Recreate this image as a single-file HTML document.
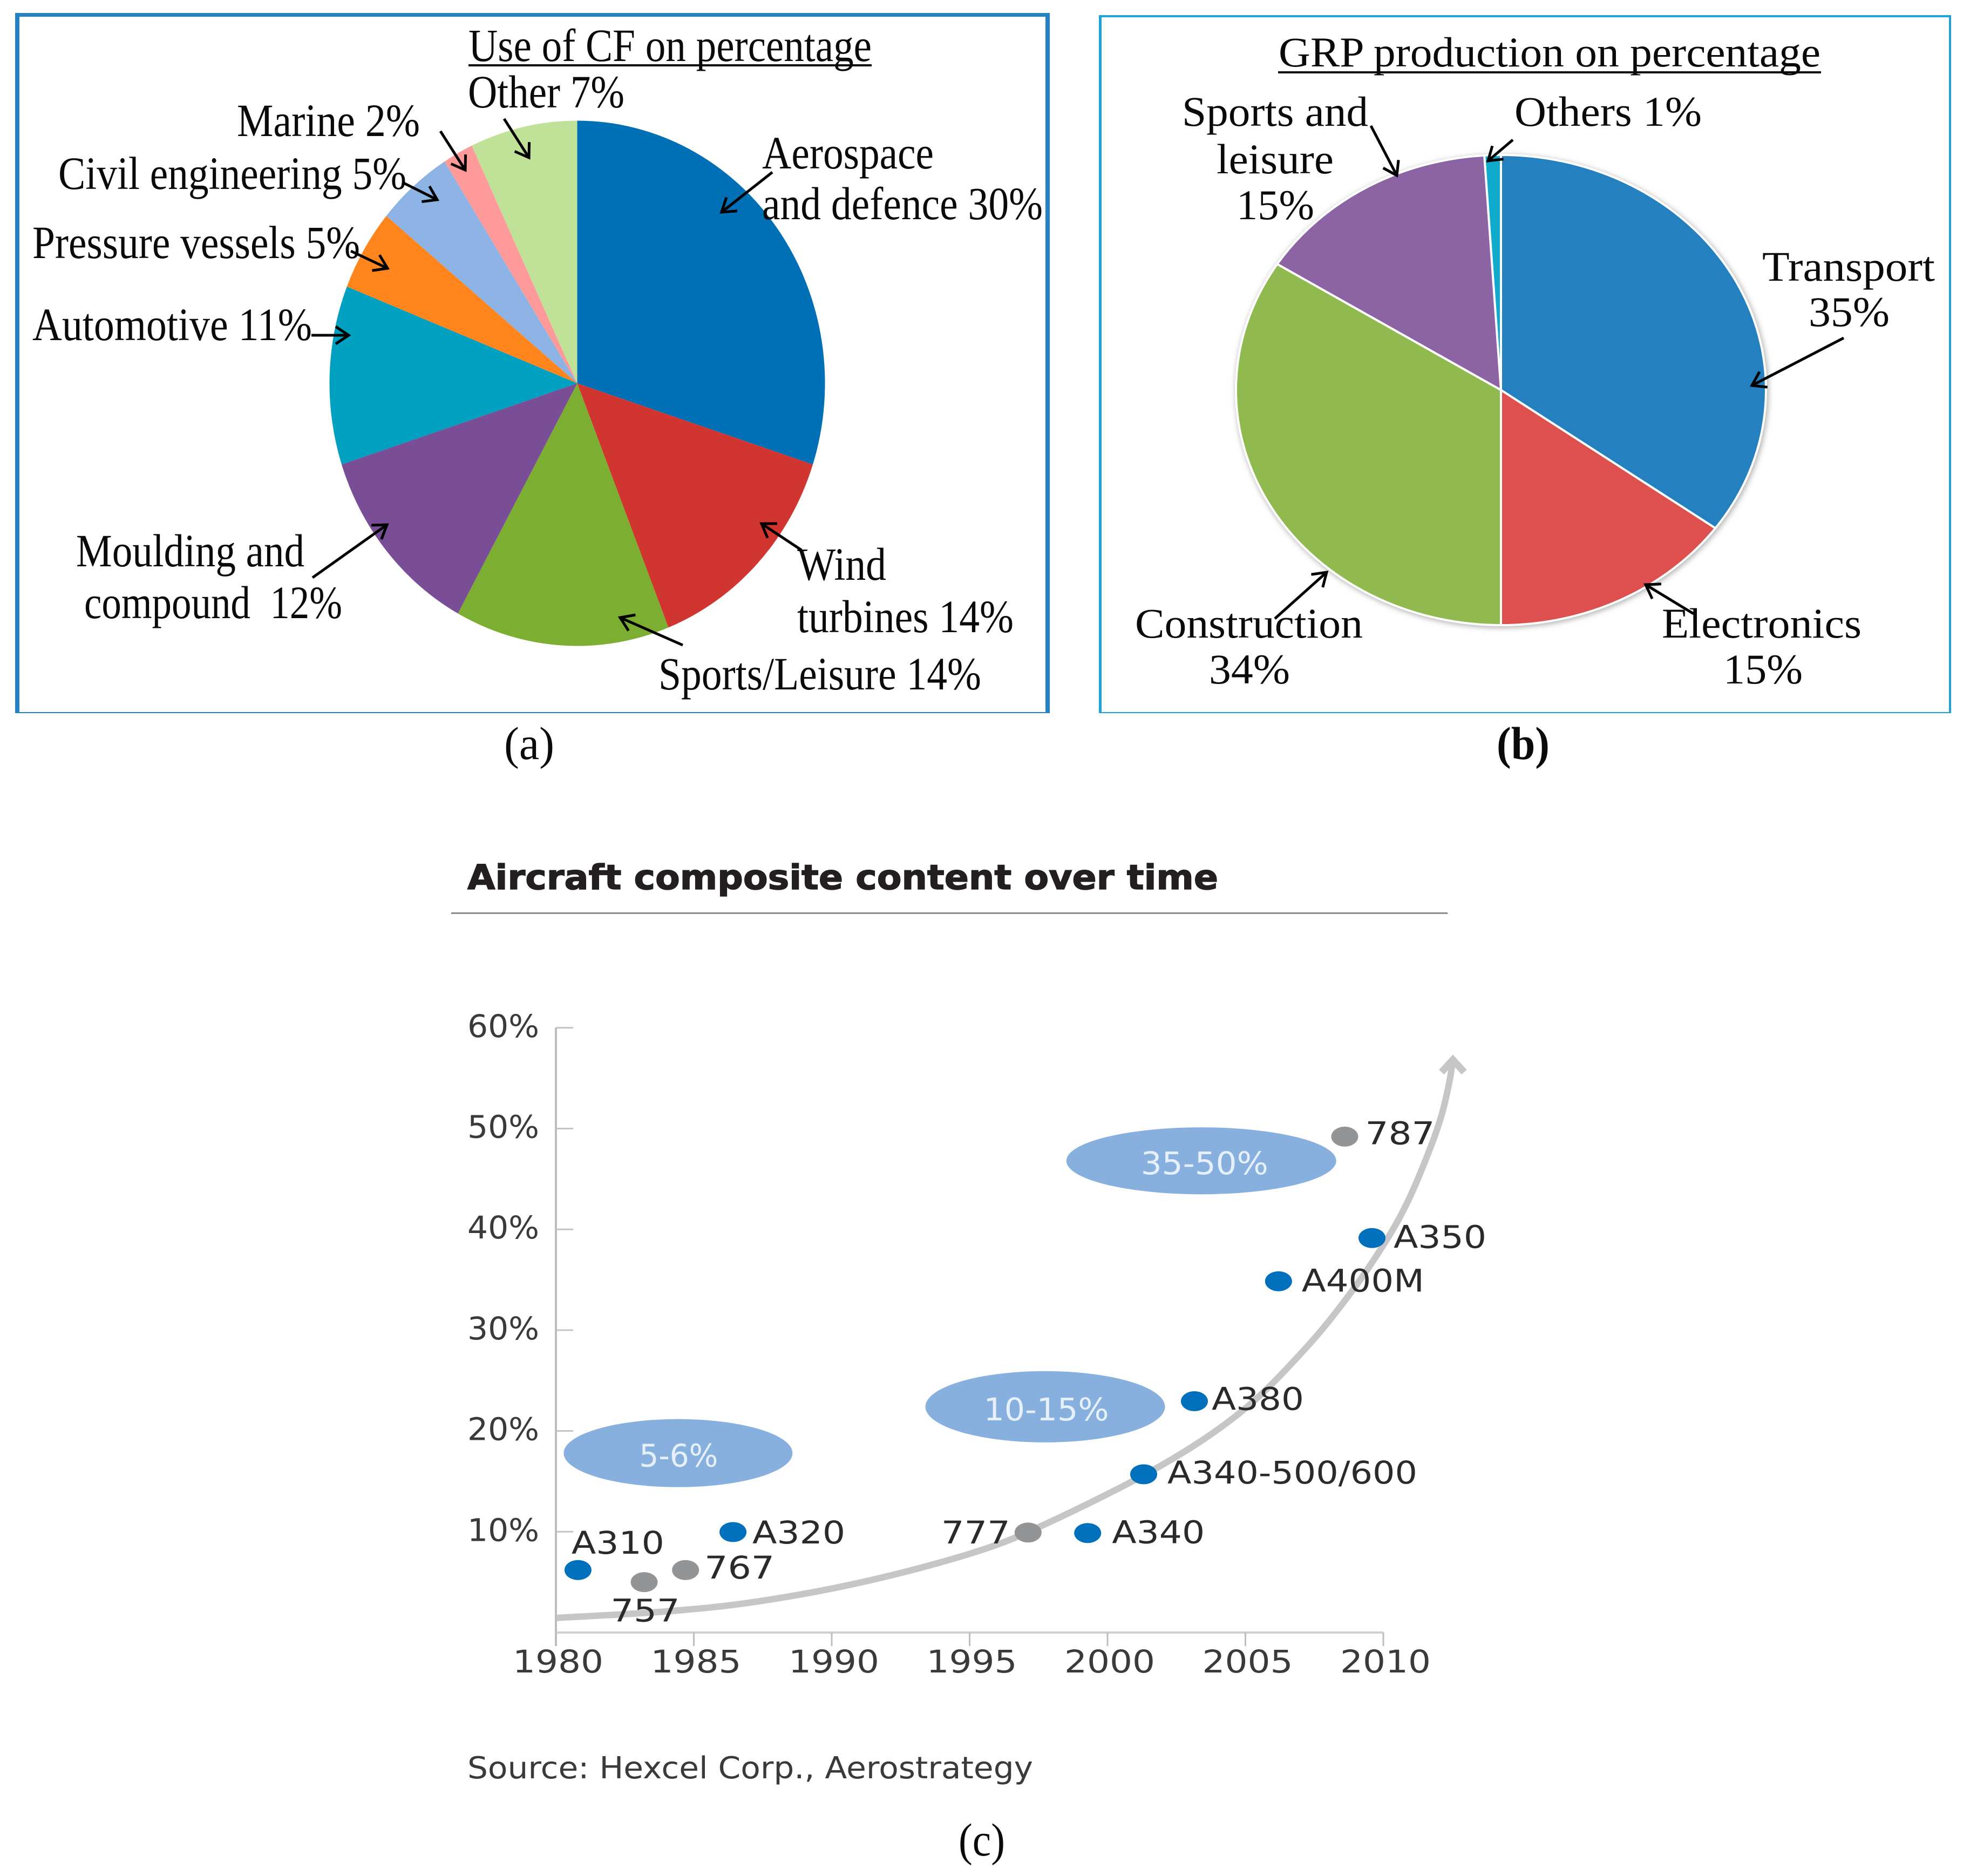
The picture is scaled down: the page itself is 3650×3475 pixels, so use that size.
<!DOCTYPE html>
<html lang="en">
<head>
<meta charset="utf-8">
<title>Composite use charts</title>
<style>
html,body{margin:0;padding:0;background:#fff;}
svg{display:block;}
.s{font-family:"Liberation Serif",serif;fill:#0a0a0a;}
.d{font-family:"DejaVu Sans",sans-serif;}
</style>
</head>
<body>
<svg id="figure" xmlns="http://www.w3.org/2000/svg" width="3650" height="3475" viewBox="0 0 3650 3475">
<defs>
<marker id="open-arrow" markerUnits="userSpaceOnUse" markerWidth="44" markerHeight="44" refX="33" refY="22" orient="auto">
<path d="M9 6 L33 22 L9 38" fill="none" stroke="#000" stroke-width="5"/>
</marker>
<filter id="soft-shadow" x="-5%" y="-5%" width="110%" height="110%"><feGaussianBlur stdDeviation="5"/></filter>
</defs>
<rect width="3650" height="3475" fill="#fff"/>

<g id="panel-a">
<g fill="#2583c3">
<rect x="28" y="24" width="1917" height="7"/>
<rect x="28" y="24" width="8" height="1297"/>
<rect x="1937" y="24" width="8" height="1297"/>
<rect x="28" y="1319" width="1917" height="2"/>
</g>
<g id="pie-a"></g>
<text class="s" x="868" y="113" font-size="86" textLength="747" lengthAdjust="spacingAndGlyphs">Use of CF on percentage</text>
<rect x="868" y="119" width="747" height="4" fill="#0a0a0a"/>
<text class="s" x="867" y="199" font-size="86" textLength="290" lengthAdjust="spacingAndGlyphs">Other 7%</text>
<text class="s" x="439" y="252" font-size="86" textLength="339" lengthAdjust="spacingAndGlyphs">Marine 2%</text>
<text class="s" x="108" y="350" font-size="86" textLength="645" lengthAdjust="spacingAndGlyphs">Civil engineering 5%</text>
<text class="s" x="60" y="478" font-size="86" textLength="607" lengthAdjust="spacingAndGlyphs">Pressure vessels 5%</text>
<text class="s" x="60" y="630" font-size="86" textLength="518" lengthAdjust="spacingAndGlyphs">Automotive 11%</text>
<text class="s" x="1412" y="312" font-size="86" textLength="318" lengthAdjust="spacingAndGlyphs">Aerospace</text>
<text class="s" x="1412" y="406" font-size="86" textLength="520" lengthAdjust="spacingAndGlyphs">and defence 30%</text>
<text class="s" x="141" y="1049" font-size="86" textLength="423" lengthAdjust="spacingAndGlyphs">Moulding and</text>
<text class="s" x="156" y="1145" font-size="86" textLength="478" lengthAdjust="spacingAndGlyphs" xml:space="preserve">compound  12%</text>
<text class="s" x="1477" y="1074" font-size="86" textLength="165" lengthAdjust="spacingAndGlyphs">Wind</text>
<text class="s" x="1477" y="1171" font-size="86" textLength="401" lengthAdjust="spacingAndGlyphs">turbines 14%</text>
<text class="s" x="1220" y="1277" font-size="86" textLength="598" lengthAdjust="spacingAndGlyphs">Sports/Leisure 14%</text>
<g stroke="#000" stroke-width="5" fill="none">
<line x1="1431" y1="319" x2="1337" y2="393" marker-end="url(#open-arrow)"/>
<line x1="934" y1="220" x2="980" y2="292" marker-end="url(#open-arrow)"/>
<line x1="816" y1="243" x2="862" y2="315" marker-end="url(#open-arrow)"/>
<line x1="746" y1="338" x2="810" y2="370" marker-end="url(#open-arrow)"/>
<line x1="650" y1="465" x2="718" y2="497" marker-end="url(#open-arrow)"/>
<line x1="577" y1="621" x2="646" y2="621" marker-end="url(#open-arrow)"/>
<line x1="579" y1="1070" x2="717" y2="972" marker-end="url(#open-arrow)"/>
<line x1="1485" y1="1019" x2="1411" y2="970" marker-end="url(#open-arrow)"/>
<line x1="1265" y1="1195" x2="1149" y2="1144" marker-end="url(#open-arrow)"/>
</g>
<text class="s" x="934" y="1406" font-size="86" textLength="93" lengthAdjust="spacingAndGlyphs">(a)</text>
</g>

<g id="panel-b">
<g fill="#1ea2dc">
<rect x="2036" y="28" width="1579" height="4"/>
<rect x="2036" y="28" width="5" height="1293"/>
<rect x="3611" y="28" width="4" height="1293"/>
<rect x="2036" y="1319" width="1579" height="2"/>
</g>
<g id="pie-b"></g>
<text class="s" x="2369" y="123" font-size="78" textLength="1004" lengthAdjust="spacingAndGlyphs">GRP production on percentage</text>
<rect x="2368" y="132" width="1006" height="4" fill="#0a0a0a"/>
<text class="s" x="2190" y="233" font-size="78" textLength="345" lengthAdjust="spacingAndGlyphs">Sports and</text>
<text class="s" x="2254" y="321" font-size="78" textLength="217" lengthAdjust="spacingAndGlyphs">leisure</text>
<text class="s" x="2291" y="406" font-size="78" textLength="144" lengthAdjust="spacingAndGlyphs">15%</text>
<text class="s" x="2806" y="233" font-size="78" textLength="347" lengthAdjust="spacingAndGlyphs">Others 1%</text>
<text class="s" x="3265" y="520" font-size="78" textLength="320" lengthAdjust="spacingAndGlyphs">Transport</text>
<text class="s" x="3351" y="604" font-size="78" textLength="150" lengthAdjust="spacingAndGlyphs">35%</text>
<text class="s" x="2103" y="1181" font-size="78" textLength="422" lengthAdjust="spacingAndGlyphs">Construction</text>
<text class="s" x="2240" y="1266" font-size="78" textLength="150" lengthAdjust="spacingAndGlyphs">34%</text>
<text class="s" x="3079" y="1181" font-size="78" textLength="370" lengthAdjust="spacingAndGlyphs">Electronics</text>
<text class="s" x="3193" y="1266" font-size="78" textLength="147" lengthAdjust="spacingAndGlyphs">15%</text>
<g stroke="#000" stroke-width="5" fill="none">
<line x1="2540" y1="233" x2="2588" y2="325" marker-end="url(#open-arrow)"/>
<line x1="2803" y1="259" x2="2757" y2="298" marker-end="url(#open-arrow)"/>
<line x1="3416" y1="626" x2="3246" y2="714" marker-end="url(#open-arrow)"/>
<line x1="2362" y1="1146" x2="2458" y2="1060" marker-end="url(#open-arrow)"/>
<line x1="3138" y1="1137" x2="3049" y2="1083" marker-end="url(#open-arrow)"/>
</g>
<text class="s" x="2773" y="1406" font-size="86" font-weight="bold" textLength="98" lengthAdjust="spacingAndGlyphs">(b)</text>
</g>

<g id="panel-c">
<text class="d" x="866" y="1647" font-size="63" font-weight="bold" fill="#231f20" stroke="#231f20" stroke-width="1.5" textLength="1391" lengthAdjust="spacingAndGlyphs">Aircraft composite content over time</text>
<rect x="836" y="1690" width="1846" height="3" fill="#8a8a8a"/>
<g id="chart-c"></g>
<text class="d" x="866" y="3294" font-size="56" fill="#3a3a3a" textLength="1048" lengthAdjust="spacingAndGlyphs">Source: Hexcel Corp., Aerostrategy</text>
<text class="s" x="1776" y="3437" font-size="86" textLength="86" lengthAdjust="spacingAndGlyphs">(c)</text>
</g>
</svg>

<script>
var SVG_NS = 'http://www.w3.org/2000/svg';

/* Panel (a) data */
var pieACategories = ['Aerospace and defence', 'Wind turbines', 'Sports/Leisure', 'Moulding and compound', 'Automotive', 'Pressure vessels', 'Civil engineering', 'Marine', 'Other'];
var pieAValues = [30, 14, 14, 12, 11, 5, 5, 2, 7];
var pieAColors = ['#0070b6', '#d13530', '#7cae32', '#7a4e96', '#00a0c0', '#ff851c', '#8db3e4', '#ff9a9a', '#c0e198'];

/* Panel (b) data */
var pieBCategories = ['Transport', 'Electronics', 'Construction', 'Sports and leisure', 'Others'];
var pieBValues = [35, 15, 34, 15, 1];
var pieBColors = ['#2580c0', '#de504e', '#90ba50', '#8c64a4', '#10aacc'];

/* Panel (c) data */
var yTickValues = [10, 20, 30, 40, 50, 60];
var yTickLabels = ['10%', '20%', '30%', '40%', '50%', '60%'];
var xTickYears = [1980, 1985, 1990, 1995, 2000, 2005, 2010];
var xTickLabels = ['1980', '1985', '1990', '1995', '2000', '2005', '2010'];
var aircraftNames = ['A310', '757', '767', 'A320', '777', 'A340', 'A340-500/600', 'A380', 'A400M', 'A350', '787'];
var aircraftYears = [1980.8, 1983.2, 1984.7, 1986.42, 1997.12, 1999.28, 2001.31, 2003.15, 2006.2, 2009.59, 2008.6];
var aircraftContent = [6.2, 5.0, 6.2, 9.97, 9.92, 9.87, 15.7, 22.95, 34.85, 39.14, 49.2];
var aircraftMakers = ['airbus', 'boeing', 'boeing', 'airbus', 'boeing', 'airbus', 'airbus', 'airbus', 'airbus', 'airbus', 'boeing'];
var trendYears = [1980.02, 1983.97, 1987.24, 1991.15, 1995.07, 1997.67, 2001.86, 2004.85, 2007.14, 2008.77, 2010.08, 2010.92, 2011.7, 2012.13, 2012.41, 2012.52];
var trendContent = [1.45, 2.09, 3.05, 5.03, 7.87, 10.66, 16.44, 21.91, 28.07, 33.53, 38.78, 42.96, 48.05, 51.5, 54.85, 56.88];
var bandLabels = ['5-6%', '10-15%', '35-50%'];
var bandYears = [1984.43, 1997.74, 2003.4];
var bandContent = [17.8, 22.4, 46.8];

/* Layout only: label placement relative to each aircraft dot */
var aircraftLabelLayout = {
  'A310': {dx: -12, dy: -30, len: 172},
  '757': {dx: -62, dy: 73, len: 128},
  '767': {dx: 35, dy: 16, len: 130},
  'A320': {dx: 36, dy: 21, len: 172},
  '777': {dx: -161, dy: 20, len: 128},
  'A340': {dx: 45, dy: 19, len: 172},
  'A340-500/600': {dx: 44, dy: 17, len: 463},
  'A380': {dx: 32, dy: 16, len: 171},
  'A400M': {dx: 43, dy: 19, len: 227},
  'A350': {dx: 40, dy: 18, len: 172},
  '787': {dx: 38, dy: 14, len: 129}
};
var bandShapes = {
  '5-6%': {rx: 212, ry: 63, textLen: 146, textDx: 1, textDy: 25},
  '10-15%': {rx: 222, ry: 66, textLen: 232, textDx: 2, textDy: 25},
  '35-50%': {rx: 250, ry: 62, textLen: 236, textDx: 6, textDy: 25}
};

function make(tag, parent) {
  var el = document.createElementNS(SVG_NS, tag);
  parent.appendChild(el);
  return el;
}

function drawPie(parent, values, colors, names, cx, cy, rx, ry, edge) {
  var total = 0;
  values.forEach(function (v) { total += v; });
  var start = 0;
  values.forEach(function (v, i) {
    var a0 = start / total * 2 * Math.PI;
    var a1 = (start + v) / total * 2 * Math.PI;
    start += v;
    var x0 = cx + rx * Math.sin(a0), y0 = cy - ry * Math.cos(a0);
    var x1 = cx + rx * Math.sin(a1), y1 = cy - ry * Math.cos(a1);
    var large = (a1 - a0) > Math.PI ? 1 : 0;
    var p = make('path', parent);
    
    
    p.setAttribute('d', 'M' + cx + ' ' + cy + ' L' + x0 + ' ' + y0 + ' A' + rx + ' ' + ry + ' 0 ' + large + ' 1 ' + x1 + ' ' + y1 + ' Z');
    p.setAttribute('fill', colors[i]);
    if (edge) {
      p.setAttribute('stroke', edge);
      p.setAttribute('stroke-width', '4');
    }
  });
}

/* Panel (a) */
drawPie(document.getElementById('pie-a'), pieAValues, pieAColors, pieACategories, 1069.5, 710, 459, 486.5, null);

/* Panel (b) */
var pieBGroup = document.getElementById('pie-b');
var pieBShadow = make('ellipse', pieBGroup);


pieBShadow.setAttribute('cx', '2783');
pieBShadow.setAttribute('cy', '725');
pieBShadow.setAttribute('rx', '494');
pieBShadow.setAttribute('ry', '438');
pieBShadow.setAttribute('fill', '#b4b4b4');
pieBShadow.setAttribute('filter', 'url(#soft-shadow)');
drawPie(pieBGroup, pieBValues, pieBColors, pieBCategories, 2781, 722.5, 491, 435.5, '#ffffff');

/* Panel (c) axes */
function xScale(year) { return 1030 + 51.1 * (year - 1980); }
function yScale(pct) { return 3024 - 18.67 * pct; }

var chart = document.getElementById('chart-c');

var yAxis = make('line', chart);


yAxis.setAttribute('x1', xScale(1980));
yAxis.setAttribute('x2', xScale(1980));
yAxis.setAttribute('y1', yScale(60));
yAxis.setAttribute('y2', yScale(0) + 25);
yAxis.setAttribute('stroke', '#bdbdbd');
yAxis.setAttribute('stroke-width', '4');

var xAxis = make('line', chart);


xAxis.setAttribute('x1', xScale(1980));
xAxis.setAttribute('x2', xScale(2010));
xAxis.setAttribute('y1', yScale(0));
xAxis.setAttribute('y2', yScale(0));
xAxis.setAttribute('stroke', '#cfcfcf');
xAxis.setAttribute('stroke-width', '4');

yTickValues.forEach(function (v, i) {
  var tick = make('line', chart);
  
  
  tick.setAttribute('x1', xScale(1980));
  tick.setAttribute('x2', xScale(1980) + 32);
  tick.setAttribute('y1', yScale(v));
  tick.setAttribute('y2', yScale(v));
  tick.setAttribute('stroke', '#c4c4c4');
  tick.setAttribute('stroke-width', '3');
  var label = make('text', chart);
  
  
  label.setAttribute('class', 'd');
  label.setAttribute('x', xScale(1980) - 164);
  label.setAttribute('y', yScale(v) + 17);
  label.setAttribute('font-size', '58');
  label.setAttribute('fill', '#3a3a3a');
  label.setAttribute('textLength', '133');
  label.setAttribute('lengthAdjust', 'spacingAndGlyphs');
  label.textContent = yTickLabels[i];
});

xTickYears.forEach(function (yr, i) {
  var tick = make('line', chart);
  
  
  tick.setAttribute('x1', xScale(yr));
  tick.setAttribute('x2', xScale(yr));
  tick.setAttribute('y1', yScale(0));
  tick.setAttribute('y2', yScale(0) + 25);
  tick.setAttribute('stroke', '#bdbdbd');
  tick.setAttribute('stroke-width', '3');
  var label = make('text', chart);
  
  
  label.setAttribute('class', 'd');
  label.setAttribute('x', xScale(yr) + 3 - 83);
  label.setAttribute('y', yScale(0) + 74);
  label.setAttribute('font-size', '58');
  label.setAttribute('fill', '#3a3a3a');
  label.setAttribute('textLength', '168');
  label.setAttribute('lengthAdjust', 'spacingAndGlyphs');
  label.textContent = xTickLabels[i];
});

/* Trend curve through the read-off points */
function trendPath() {
  var pts = trendYears.map(function (yr, i) { return [xScale(yr), yScale(trendContent[i])]; });
  var d = 'M' + pts[0][0] + ' ' + pts[0][1];
  for (var i = 0; i < pts.length - 1; i++) {
    var p0 = pts[Math.max(0, i - 1)], p1 = pts[i], p2 = pts[i + 1], p3 = pts[Math.min(pts.length - 1, i + 2)];
    var c1x = p1[0] + (p2[0] - p0[0]) / 6, c1y = p1[1] + (p2[1] - p0[1]) / 6;
    var c2x = p2[0] - (p3[0] - p1[0]) / 6, c2y = p2[1] - (p3[1] - p1[1]) / 6;
    d += ' C' + c1x + ' ' + c1y + ' ' + c2x + ' ' + c2y + ' ' + p2[0] + ' ' + p2[1];
  }
  return d;
}

var trend = make('path', chart);


trend.setAttribute('d', trendPath());
trend.setAttribute('fill', 'none');
trend.setAttribute('stroke', '#c6c6c8');
trend.setAttribute('stroke-width', '12');

var lastIdx = trendYears.length - 1;
var tipX = xScale(trendYears[lastIdx]);
var tipY = yScale(trendContent[lastIdx]);
var trendHead = make('path', chart);


trendHead.setAttribute('d', 'M' + (tipX - 21) + ' ' + (tipY + 24) + ' L' + tipX + ' ' + (tipY + 1) + ' L' + (tipX + 21) + ' ' + (tipY + 24));
trendHead.setAttribute('fill', 'none');
trendHead.setAttribute('stroke', '#c6c6c8');
trendHead.setAttribute('stroke-width', '13');

/* Percentage bands */
bandLabels.forEach(function (name, i) {
  var shape = bandShapes[name];
  var band = make('ellipse', chart);
  
  
  band.setAttribute('cx', xScale(bandYears[i]));
  band.setAttribute('cy', yScale(bandContent[i]));
  band.setAttribute('rx', shape.rx);
  band.setAttribute('ry', shape.ry);
  band.setAttribute('fill', '#88b0df');
  var text = make('text', chart);
  
  
  text.setAttribute('class', 'd');
  text.setAttribute('x', xScale(bandYears[i]) + shape.textDx - shape.textLen / 2);
  text.setAttribute('y', yScale(bandContent[i]) + shape.textDy);
  text.setAttribute('font-size', '58');
  text.setAttribute('fill', '#e6f0fa');
  text.setAttribute('textLength', shape.textLen);
  text.setAttribute('lengthAdjust', 'spacingAndGlyphs');
  text.textContent = name;
});

/* Aircraft points */
aircraftNames.forEach(function (name, i) {
  var px = xScale(aircraftYears[i]);
  var py = yScale(aircraftContent[i]);
  var dot = make('ellipse', chart);
  
  
  dot.setAttribute('cx', px);
  dot.setAttribute('cy', py);
  dot.setAttribute('rx', '25');
  dot.setAttribute('ry', '18.5');
  dot.setAttribute('fill', aircraftMakers[i] === 'airbus' ? '#006fbc' : '#939496');
  var layout = aircraftLabelLayout[name];
  var label = make('text', chart);
  
  
  label.setAttribute('class', 'd');
  label.setAttribute('x', px + layout.dx);
  label.setAttribute('y', py + layout.dy);
  label.setAttribute('font-size', '58');
  label.setAttribute('fill', '#2a2a2a');
  label.setAttribute('textLength', layout.len);
  label.setAttribute('lengthAdjust', 'spacingAndGlyphs');
  label.textContent = name;
});
</script>
</body>
</html>
